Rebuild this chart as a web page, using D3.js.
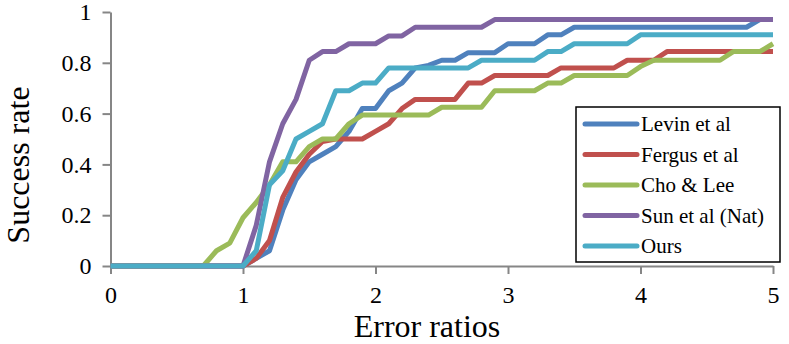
<!DOCTYPE html>
<html>
<head>
<meta charset="utf-8">
<script src="https://cdn.jsdelivr.net/npm/d3@7"></script>
<style>
  html, body { margin: 0; padding: 0; background: #fff; }
  svg { display: block; }
</style>
</head>
<body>
<svg id="chart"></svg>
<script>
// error ratio sampled every 0.1
const ratios = [0, 0.1, 0.2, 0.3, 0.4, 0.5, 0.6, 0.7, 0.8, 0.9,
  1, 1.1, 1.2, 1.3, 1.4, 1.5, 1.6, 1.7, 1.8, 1.9,
  2, 2.1, 2.2, 2.3, 2.4, 2.5, 2.6, 2.7, 2.8, 2.9,
  3, 3.1, 3.2, 3.3, 3.4, 3.5, 3.6, 3.7, 3.8, 3.9,
  4, 4.1, 4.2, 4.3, 4.4, 4.5, 4.6, 4.7, 4.8, 4.9, 5]

const levin = [0, 0, 0, 0, 0, 0, 0, 0, 0, 0,
  0, 0.03, 0.06, 0.22, 0.34, 0.41, 0.44, 0.47, 0.53, 0.62,
  0.62, 0.69, 0.72, 0.78, 0.79, 0.81, 0.81, 0.84, 0.84, 0.84,
  0.875, 0.875, 0.875, 0.91, 0.91, 0.94, 0.94, 0.94, 0.94, 0.94,
  0.94, 0.94, 0.94, 0.94, 0.94, 0.94, 0.94, 0.94, 0.94, 0.97, 0.97]

const fergus = [0, 0, 0, 0, 0, 0, 0, 0, 0, 0,
  0, 0.03, 0.1, 0.27, 0.37, 0.44, 0.49, 0.5, 0.5, 0.5,
  0.53, 0.56, 0.62, 0.656, 0.656, 0.656, 0.656, 0.72, 0.72, 0.75,
  0.75, 0.75, 0.75, 0.75, 0.78, 0.78, 0.78, 0.78, 0.78, 0.81,
  0.81, 0.81, 0.844, 0.844, 0.844, 0.844, 0.844, 0.844, 0.844, 0.844, 0.844]

const cho = [0, 0, 0, 0, 0, 0, 0, 0, 0.06, 0.09,
  0.19, 0.25, 0.32, 0.41, 0.41, 0.47, 0.5, 0.5, 0.56, 0.594,
  0.594, 0.594, 0.594, 0.594, 0.594, 0.625, 0.625, 0.625, 0.625, 0.69,
  0.69, 0.69, 0.69, 0.72, 0.72, 0.75, 0.75, 0.75, 0.75, 0.75,
  0.785, 0.81, 0.81, 0.81, 0.81, 0.81, 0.81, 0.844, 0.844, 0.844, 0.875]

const sun = [0, 0, 0, 0, 0, 0, 0, 0, 0, 0,
  0, 0.16, 0.41, 0.56, 0.656, 0.81, 0.844, 0.844, 0.875, 0.875,
  0.875, 0.906, 0.906, 0.94, 0.94, 0.94, 0.94, 0.94, 0.94, 0.97,
  0.97, 0.97, 0.97, 0.97, 0.97, 0.97, 0.97, 0.97, 0.97, 0.97,
  0.97, 0.97, 0.97, 0.97, 0.97, 0.97, 0.97, 0.97, 0.97, 0.97, 0.97]

const ours = [0, 0, 0, 0, 0, 0, 0, 0, 0, 0,
  0, 0.06, 0.32, 0.375, 0.5, 0.53, 0.56, 0.69, 0.69, 0.72,
  0.72, 0.78, 0.78, 0.78, 0.78, 0.78, 0.78, 0.78, 0.81, 0.81,
  0.81, 0.81, 0.81, 0.844, 0.844, 0.875, 0.875, 0.875, 0.875, 0.875,
  0.91, 0.91, 0.91, 0.91, 0.91, 0.91, 0.91, 0.91, 0.91, 0.91, 0.91]

const seriesNames = ['Levin et al', 'Fergus et al', 'Cho & Lee', 'Sun et al (Nat)', 'Ours']
const seriesValues = [levin, fergus, cho, sun, ours]
const xTicks = [0, 1, 2, 3, 4, 5]
const yTicks = [0, 0.2, 0.4, 0.6, 0.8, 1]

const colors = d3.scaleOrdinal(seriesNames, ['#4f81bd', '#c0504d', '#9bbb59', '#8064a2', '#4bacc6'])
const serif = "'Liberation Serif', 'Times New Roman', serif"

const width = 789, height = 344

const svg = d3.select('#chart')
  .attr('width', width)
  .attr('height', height)

const x = d3.scaleLinear().domain([0, 5]).range([110.5, 773])
const y = d3.scaleLinear().domain([0, 1]).range([266, 12])

// axes
const xAxis = svg.append('g')
  .attr('transform', `translate(0,${y(0)})`)
  .call(d3.axisBottom(x).tickValues(xTicks).tickFormat(d3.format('d')).tickSize(8).tickSizeOuter(0))
const yAxis = svg.append('g')
  .attr('transform', `translate(${x(0)},0)`)
  .call(d3.axisLeft(y).tickValues(yTicks).tickFormat(d => d === 0 || d === 1 ? d : d3.format('.1f')(d)).tickSize(8).tickSizeOuter(0))

svg.selectAll('.domain, .tick line')
  .attr('stroke', '#868686')
  .attr('stroke-width', 2)

xAxis.attr('font-family', serif).attr('font-size', 24)
yAxis.attr('font-family', serif).attr('font-size', 24)
xAxis.selectAll('text')
  .style('font-family', serif)
  .attr('fill', '#000')
  .attr('y', 20)
yAxis.selectAll('text')
  .style('font-family', serif)
  .attr('fill', '#000')
  .attr('x', -19)

// lines
const line = d3.line()
  .x((d, i) => x(ratios[i]))
  .y(d => y(d))

svg.append('g')
  .selectAll('path')
  .data(seriesValues)
  .join('path')
    .attr('d', line)
    .attr('fill', 'none')
    .attr('stroke', (d, i) => colors(seriesNames[i]))
    .attr('stroke-width', 5)
    .attr('stroke-linejoin', 'round')

// titles
svg.append('text')
  .attr('x', 427)
  .attr('y', 337)
  .attr('text-anchor', 'middle')
  .style('font-family', serif)
  .style('font-size', '32px')
  .text('Error ratios')

svg.append('text')
  .attr('transform', 'translate(29,165) rotate(-90)')
  .attr('text-anchor', 'middle')
  .style('font-family', serif)
  .style('font-size', '32px')
  .text('Success rate')

// legend
const legend = svg.append('g')
legend.append('rect')
  .attr('x', 576)
  .attr('y', 107)
  .attr('width', 204)
  .attr('height', 155)
  .attr('fill', '#fff')
  .attr('stroke', '#000')
  .attr('stroke-width', 1.5)

const rows = legend.selectAll('g.row')
  .data(seriesNames)
  .join('g')
    .attr('class', 'row')
    .attr('transform', (d, i) => `translate(0,${124 + i * 30.5})`)

rows.append('line')
  .attr('x1', 585)
  .attr('x2', 637)
  .attr('stroke', d => colors(d))
  .attr('stroke-width', 5)
  .attr('stroke-linecap', 'round')

rows.append('text')
  .attr('x', 641)
  .attr('y', 7)
  .style('font-family', serif)
  .style('font-size', '21px')
  .text(d => d)
</script>
</body>
</html>
